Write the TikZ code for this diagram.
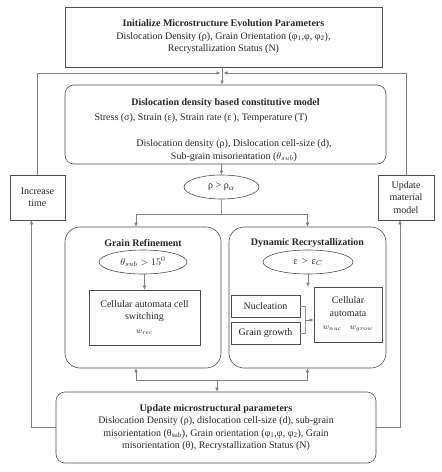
\documentclass[tikz,border=0pt]{standalone}
\usepackage{fontspec}
\setmainfont{Liberation Serif}
\usepackage{amsmath}
\usetikzlibrary{positioning, arrows.meta, shapes.geometric, calc}

\begin{document}
\begin{tikzpicture}[
  x=1pt, y=-1pt,
  >={Latex[length=4pt,width=3.5pt]},
  every node/.style={font=\fontsize{10}{12.5}\selectfont, text=black!85},
  box/.style={draw=black!70, semithick, align=center, inner sep=2pt},
  rbox/.style={box, rounded corners=9pt},
  cond/.style={draw=black!70, semithick, ellipse, inner sep=1pt},
  side/.style={box, minimum width=55pt, minimum height=45pt},
  title/.style={font=\fontsize{10}{12.5}\selectfont\bfseries, align=center},
  ar/.style={->, draw=black!50},
  ln/.style={draw=black!40},
]
\useasboundingbox (0,0) rectangle (442,472);

% ===================== top =====================
\node[box, minimum width=317pt, minimum height=60pt] (Init) at (223.5,37)
  {\textbf{Initialize Microstructure Evolution Parameters}\\
   Dislocation Density (ρ), Grain Orientation (φ\textsubscript{1},φ, φ\textsubscript{2}),\\
   Recrystallization Status (N)};

\node[rbox, minimum width=321pt, minimum height=79pt] (Model) at (225.5,124.5) {};
\node[title] (Mt) at (225.5,103) {Dislocation density based constitutive model};
\node (Min) at (201,118) {Stress (σ), Strain (ε), Strain rate (ε\raisebox{0.9ex}{\kern-0.5pt\scriptsize$\cdot$}), Temperature (T)};
\node[align=center] (Mout) at (234,150.5)
  {Dislocation density (ρ), Dislocation cell-size (d),\\ Sub-grain misorientation ($\theta_{sub}$)};

\node[cond, minimum width=75pt, minimum height=24pt] (Crit) at (221.5,187) {ρ > ρ\textsubscript{cr}};

% ===================== Grain refinement =====================
\node[box, rounded corners=15pt, minimum width=156pt, minimum height=141pt] (Gr) at (143,297.5) {};
\node[title] (Grt) at (143,243) {Grain Refinement};
\node[cond, minimum width=88pt, minimum height=24pt] (Grc) at (143,262) {$\theta_{sub} > 15^{0}$};
\node[box, minimum width=111pt, minimum height=55pt] (Grca) at (144.5,317.5)
  {Cellular automata cell\\ switching\\[1pt] {\footnotesize$w_{rec}$}};

% ===================== Dynamic recrystallization =====================
\node[box, rounded corners=15pt, minimum width=157pt, minimum height=141pt] (Drx) at (307.5,297.5) {};
\node[title] (Drxt) at (307.5,243) {Dynamic Recrystallization};
\node[cond, minimum width=90pt, minimum height=24pt] (Drxc) at (308,262) {ε\, > \,ε$_{C}$};
\node[box, minimum width=68pt, minimum height=55pt] (Drxca) at (348,314.5)
  {Cellular\\ automata\\[1pt] {\footnotesize$w_{nuc}$\quad$w_{grow}$}};
\node[box, minimum width=69pt, minimum height=22pt] (Nuc) at (265.5,306) {Nucleation};
\node[box, minimum width=69pt, minimum height=22pt] (Grow) at (265.5,333) {Grain growth};

% ===================== bottom and sides =====================
\node[rbox, minimum width=320pt, minimum height=71pt] (Upd) at (216,427.5)
  {\textbf{Update microstructural parameters}\\
   Dislocation Density (ρ), dislocation cell-size (d), sub-grain\\
   misorientation (θ\textsubscript{sub}), Grain orientation (φ\textsubscript{1},φ, φ\textsubscript{2}), Grain\\
   misorientation (θ), Recrystallization Status (N)};

\node[side] (Time) at (37.5,197.5) {Increase\\ time};
\node[side, minimum width=56pt] (Mat) at (406,197.5) {Update\\ material\\ model};

% connectors
\coordinate (Top) at (222,73);
\coordinate (Split) at (221.5,214);
\coordinate (Join) at (217,380);
\draw[ar] (Init.south -| Top) -- (Model.north -| Top);
\draw[ar] (Time.north) -- (Time.north |- Top) -- ([xshift=-1.5pt]Top);
\draw[ar] (Mat.north) -- (Mat.north |- Top) -- ([xshift=1.5pt]Top);
\draw[ar] (Upd.west) -| ([xshift=-6pt]Time.south);
\draw[ar] (Upd.east) -| ([xshift=-6pt]Mat.south);

\draw[ar] (Model.south -| Crit) -- (Crit.north);
\draw[ln] (Crit.south) -- (Split);
\draw[ar] (Split) -| ([xshift=-7pt]Gr.north);
\draw[ar] (Split) -| (Drx.north);

\draw[ar] (Grc.south -| Grca) -- (Grca.north);
\draw[ar] (Drxc.south) -- (Drxc.south |- Drxca.north);
\coordinate (Merge) at (305,320);
\draw[ln] (Nuc.east) -| (Merge);
\draw[ln] (Grow.east) -| (Merge);
\draw[ar] (Merge) -- (Drxca.west |- Merge);

\draw[ar] (Join) -| ([xshift=-7pt]Gr.south);
\draw[ar] (Join) -| (Drx.south);
\draw[ar] (Join) -- (Upd.north -| Join);
\end{tikzpicture}
\end{document}
